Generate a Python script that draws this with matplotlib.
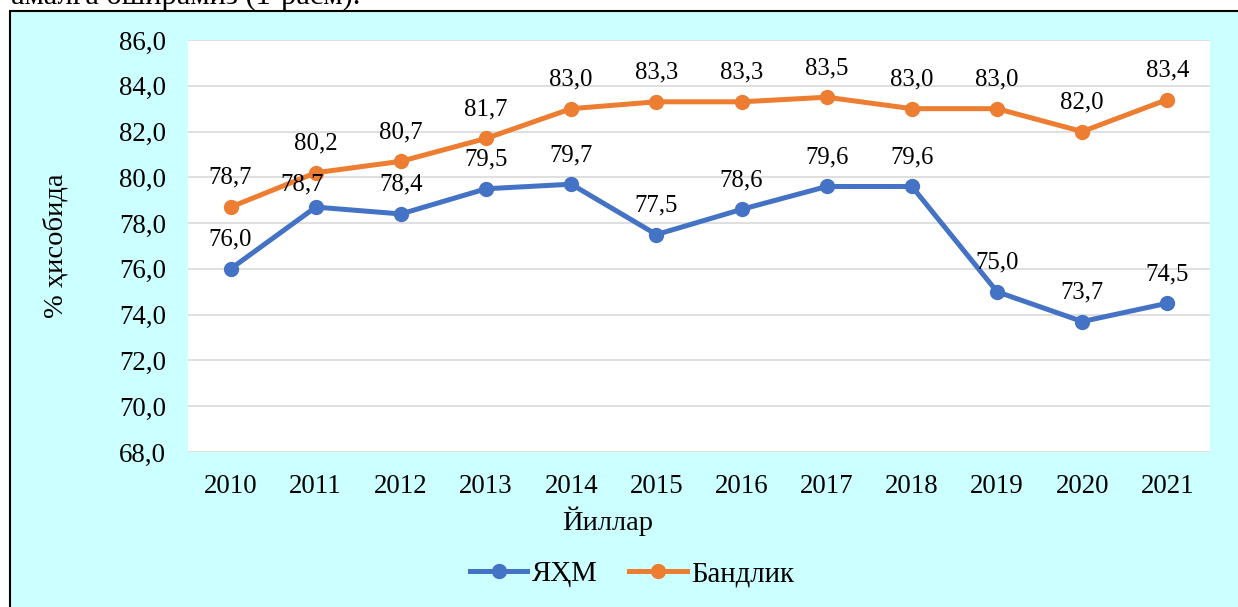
import matplotlib
matplotlib.use("Agg")
import matplotlib.pyplot as plt
from matplotlib.patches import Rectangle

plt.rcParams['font.family'] = ['Liberation Serif', 'DejaVu Serif']

years = ['2010', '2011', '2012', '2013', '2014', '2015',
         '2016', '2017', '2018', '2019', '2020', '2021']
yahm = [76.0, 78.7, 78.4, 79.5, 79.7, 77.5, 78.6, 79.6, 79.6, 75.0, 73.7, 74.5]
bandlik = [78.7, 80.2, 80.7, 81.7, 83.0, 83.3, 83.3, 83.5, 83.0, 83.0, 82.0, 83.4]
yticks = [68, 70, 72, 74, 76, 78, 80, 82, 84, 86]

W, H = 1238, 607
fig = plt.figure(figsize=(W / 100, H / 100), dpi=100)
fig.patch.set_facecolor('white')

# cyan chart box, runs past the right and bottom edges
box = Rectangle((9.5 / W, -0.1), 1.2, 1 - 10.5 / H + 0.1, transform=fig.transFigure,
                facecolor='#CCFFFF', edgecolor='black', linewidth=1.5, zorder=-5)
fig.patches.append(box)

# cut-off line of text above the box
fig.text(11 / W, 1 - 4 / H, 'амалга оширамиз (1-расм).', fontsize=22,
         va='baseline', ha='left', color='black')

ax = fig.add_axes([188 / W, 1 - 452 / H, (1210 - 188) / W, (452 - 40) / H])
ax.set_zorder(2)
ax.set_facecolor('white')

x = list(range(len(years)))
ax.plot(x, yahm, color='#4472C4', lw=3.6, marker='o', ms=10, label='ЯҲМ', zorder=3)
ax.plot(x, bandlik, color='#ED7D31', lw=3.6, marker='o', ms=10, label='Бандлик', zorder=3)

for i, v in enumerate(yahm):
    dx, dy = 0, 21
    if i == 1:  # label squeezed left/down in the original
        dx, dy = -10, 16
    ax.annotate(('%.1f' % v).replace('.', ','), (x[i], v), xytext=(dx, dy),
                textcoords='offset points', ha='center', va='center', fontsize=17.8)
for i, v in enumerate(bandlik):
    ax.annotate(('%.1f' % v).replace('.', ','), (x[i], v), xytext=(0, 21),
                textcoords='offset points', ha='center', va='center', fontsize=17.8)

ax.set_xlim(-0.5, len(years) - 0.5)
ax.set_ylim(68, 86)
ax.set_yticks(yticks)
ax.set_yticklabels([('%.1f' % t).replace('.', ',') for t in yticks], fontsize=19.4)
ax.set_xticks(x)
ax.set_xticklabels(years, fontsize=19.4)
ax.tick_params(length=0)
ax.tick_params(axis='y', pad=16)
ax.tick_params(axis='x', pad=16)
ax.grid(axis='y', color='#D9D9D9', lw=1.2)
ax.set_axisbelow(True)
for s in ax.spines.values():
    s.set_visible(False)

fig.text(56 / W, 1 - 246 / H, '% ҳисобида', rotation=90, fontsize=20.5,
         ha='center', va='center')
fig.text(608 / W, 1 - 521 / H, 'Йиллар', fontsize=20.5, ha='center', va='center')

fig.legend(loc='center', bbox_to_anchor=(632 / W, 1 - 574 / H), ncol=2,
           frameon=False, fontsize=20.8, handlelength=2.0, columnspacing=1.1,
           handletextpad=0.15)

fig.savefig('out.png', dpi=100)
